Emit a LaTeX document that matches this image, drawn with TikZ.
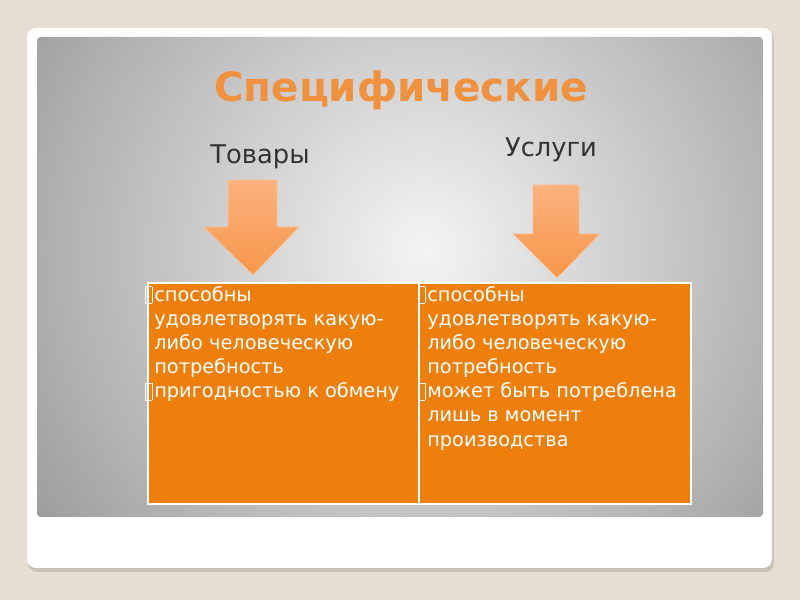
\documentclass[tikz,border=0pt]{standalone}
\usepackage{fontspec}
\setmainfont{DejaVu Sans}
\usetikzlibrary{positioning,shadows}
\definecolor{slBeige}{HTML}{E5DED3}
\definecolor{slShadow}{HTML}{C8C1B5}
\definecolor{slPanelIn}{HTML}{F4F4F4}
\definecolor{slPanelOut}{HTML}{9C9C9C}
\definecolor{slTitle}{HTML}{F0913F}
\definecolor{slInk}{HTML}{333333}
\definecolor{slCell}{HTML}{EE7F0D}
\definecolor{slArrowTop}{HTML}{FBB27E}
\definecolor{slArrowBot}{HTML}{F7964A}
\definecolor{slArrowEdge}{HTML}{F9C39A}
% missing-glyph box as the slide shows it
\newcommand{\slbul}{{\setlength{\fboxsep}{0pt}\setlength{\fboxrule}{0.4pt}%
  \raisebox{-0.1em}{\fbox{\phantom{\rule{0.3em}{0.85em}}}}\hspace{0.12em}}}
\tikzset{
  sl title/.style={font=\fontsize{34.5}{40}\selectfont\bfseries, text=slTitle},
  sl label/.style={font=\fontsize{22}{26}\selectfont, text=slInk},
  sl cell/.style={fill=slCell, draw=white, line width=1.6pt, minimum height=221*0.03cm,
    anchor=north west},
  sl cell text/.style={font=\fontsize{16.5}{20.6}\selectfont, text=white, align=left,
    anchor=north west, inner sep=0pt},
  sl arrow/.style={top color=slArrowTop, bottom color=slArrowBot, draw=slArrowEdge,
    line width=0.6pt, line join=round}
}
\begin{document}
\begin{tikzpicture}[x=0.03cm, y=-0.03cm]
\useasboundingbox (0,0) rectangle (800,600);
\fill[slBeige] (0,0) rectangle (800,600);
% slide card
\fill[slShadow, rounded corners=9*0.03cm] (28,31) rectangle (774,572);
\fill[white, rounded corners=9*0.03cm] (27,28) rectangle (772,568);
% gray panel with radial light
\begin{scope}
  \clip[rounded corners=4*0.03cm] (37,37) rectangle (763,517);
  \fill[slPanelOut] (37,37) rectangle (763,517);
  \shade[inner color=slPanelIn, outer color=slPanelOut] (425,250) circle (480);
\end{scope}
% headings
\node[sl title] (title) at (401,90) {Специфические};
\node[sl label] (goods) at (260,157) {Товары};
\node[sl label] (services) at (551,150) {Услуги};
% table
\node[sl cell, minimum width=271*0.03cm] (goodscell) at (147,282) {};
\node[sl cell, minimum width=272*0.03cm] (servicecell) at (418,282) {};
\node[sl cell text] (goodstext) at (145,286) {\slbul способны\\
  \phantom{\slbul}удовлетворять какую-\\
  \phantom{\slbul}либо человеческую\\
  \phantom{\slbul}потребность\\
  \slbul пригодностью к обмену};
\node[sl cell text] (servicetext) at (418,286) {\slbul способны\\
  \phantom{\slbul}удовлетворять какую-\\
  \phantom{\slbul}либо человеческую\\
  \phantom{\slbul}потребность\\
  \slbul может быть потреблена\\
  \phantom{\slbul}лишь в момент\\
  \phantom{\slbul}производства};
% block arrows
\draw[sl arrow] (228,180) -- (277,180) -- (277,227) -- (299,227) -- (253,275)
  -- (204,227) -- (228,227) -- cycle;
\draw[sl arrow] (533,185) -- (579,185) -- (579,234) -- (600,234) -- (557,278)
  -- (513,234) -- (533,234) -- cycle;
\end{tikzpicture}
\end{document}
